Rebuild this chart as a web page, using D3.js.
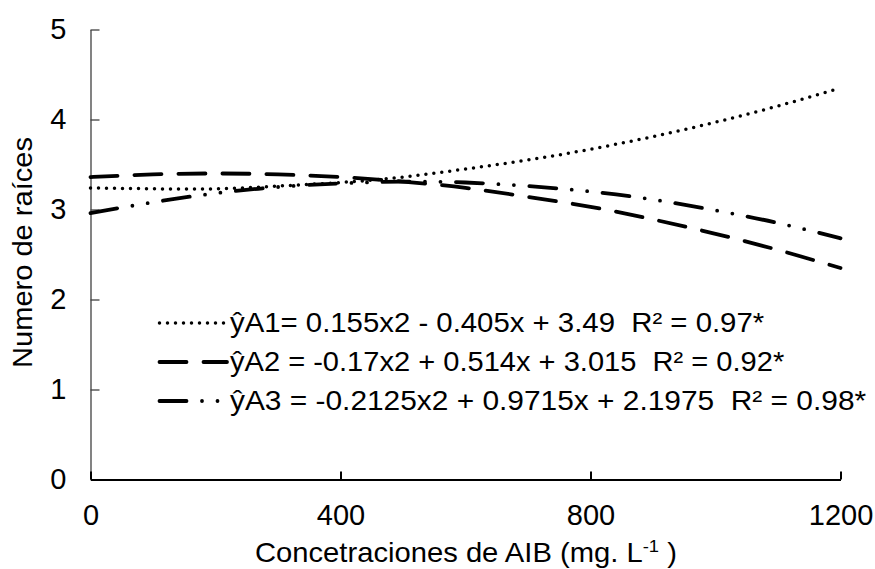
<!DOCTYPE html>
<html>
<head>
<meta charset="utf-8">
<script src="https://cdn.jsdelivr.net/npm/d3@7"></script>
<style>
  html, body { margin: 0; padding: 0; background: #fff; }
  svg { display: block; font-family: "Liberation Sans", Arial, Helvetica, sans-serif; }
  text { white-space: pre; }
</style>
</head>
<body>
<svg id="chart" width="875" height="569"></svg>
<script>
// Concentrations of AIB (mg/L) at which the fitted curves are sampled
const concentrations = [0, 100, 200, 300, 400, 500, 600, 700, 800, 900, 1000, 1100, 1200];

// Number of roots for each treatment along the fitted curve
const seriesA1 = [3.24, 3.23, 3.23, 3.26, 3.30, 3.36, 3.45, 3.55, 3.67, 3.81, 3.97, 4.15, 4.35];
const seriesA2 = [3.36, 3.39, 3.40, 3.39, 3.36, 3.31, 3.24, 3.14, 3.03, 2.89, 2.73, 2.55, 2.35];
const seriesA3 = [2.96, 3.08, 3.18, 3.25, 3.29, 3.31, 3.30, 3.26, 3.20, 3.11, 2.99, 2.85, 2.68];

// Legend labels (regression equations)
const legendLabels = [
  "ŷA1= 0.155x2 - 0.405x + 3.49  R² = 0.97*",
  "ŷA2 = -0.17x2 + 0.514x + 3.015  R² = 0.92*",
  "ŷA3 = -0.2125x2 + 0.9715x + 2.1975  R² = 0.98*"
];

const xTicks = [0, 400, 800, 1200];
const yTicks = [0, 1, 2, 3, 4, 5];

const svg = d3.select("#chart");

const x = d3.scaleLinear().domain([0, 1200]).range([90.5, 840.5]);
const y = d3.scaleLinear().domain([0, 5]).range([479.5, 29.5]);

// stretch a text node horizontally to a given width around a pivot
function stretch(node, width, pivot) {
  const b = node.getBBox();
  const s = width / b.width;
  const px = pivot === "left" ? b.x : pivot === "right" ? b.x + b.width : b.x + b.width / 2;
  node.setAttribute("transform", `translate(${px},0) scale(${s},1) translate(${-px},0)`);
}

// Y axis
const yAxis = svg.append("g")
  .attr("transform", `translate(${x(0)},0)`)
  .call(d3.axisLeft(y).tickValues(yTicks).tickSizeInner(-9).tickSizeOuter(0).tickPadding(24).tickFormat(d3.format("d")));
yAxis.select(".domain").attr("stroke", "#404040").attr("stroke-width", 1.3);
yAxis.selectAll(".tick line").attr("stroke", "#404040").attr("stroke-width", 1.3);
yAxis.selectAll(".tick text").attr("font-size", 29).attr("fill", "#000")
  .attr("font-family", "Liberation Sans, Arial, sans-serif");

// X axis
const xAxis = svg.append("g")
  .attr("transform", `translate(0,${y(0)})`)
  .call(d3.axisBottom(x).tickValues(xTicks).tickSizeInner(-8).tickSizeOuter(0).tickPadding(25).tickFormat(d3.format("d")));
xAxis.select(".domain").attr("stroke", "#000").attr("stroke-width", 2);
xAxis.selectAll(".tick line").attr("stroke", "#000").attr("stroke-width", 2);
xAxis.selectAll(".tick text").attr("font-size", 29).attr("fill", "#000")
  .attr("font-family", "Liberation Sans, Arial, sans-serif");

// Curves
const series = [
  { values: seriesA1, dash: "0 8", width: 3.5 },
  { values: seriesA2, dash: "27 17", width: 3.8 },
  { values: seriesA3, dash: "27 15.5 0 15.5 0 15.5", width: 3.8 }
];

const line = d3.line()
  .x(d => x(d[0]))
  .y(d => y(d[1]))
  .curve(d3.curveNatural);

series.forEach(s => {
  svg.append("path")
    .datum(concentrations.map((c, i) => [c, s.values[i]]))
    .attr("d", line)
    .attr("fill", "none")
    .attr("stroke", "#000")
    .attr("stroke-width", s.width)
    .attr("stroke-linecap", "round")
    .attr("stroke-dasharray", s.dash);
});

// Legend
const legendX0 = 159.5, legendX1 = 227, legendTextX = 230;
const legendRowY = [323, 362, 401];
const legendWidths = [535, 555, 637];
series.forEach((s, i) => {
  svg.append("line")
    .attr("x1", legendX0).attr("x2", legendX1)
    .attr("y1", legendRowY[i]).attr("y2", legendRowY[i])
    .attr("stroke", "#000")
    .attr("stroke-width", s.width)
    .attr("stroke-linecap", "round")
    .attr("stroke-dasharray", s.dash);
  const t = svg.append("text")
    .attr("x", legendTextX)
    .attr("y", legendRowY[i] + 9.5)
    .attr("font-size", 27)
    .attr("fill", "#000")
    .text(legendLabels[i]);
  stretch(t.node(), legendWidths[i], "left");
});

// Axis titles
const xTitle = svg.append("text")
  .attr("x", 255)
  .attr("y", 562)
  .attr("font-size", 27)
  .attr("fill", "#000");
xTitle.append("tspan").text("Concetraciones de AIB (mg. L");
xTitle.append("tspan").attr("font-size", 17).attr("dy", -10).text("-1");
xTitle.append("tspan").attr("dy", 10).text(" )");
stretch(xTitle.node(), 422, "left");

const yTitle = svg.append("text")
  .attr("text-anchor", "middle")
  .attr("font-size", 27)
  .attr("fill", "#000")
  .text("Numero de raíces");
const yLen = yTitle.node().getComputedTextLength();
yTitle.attr("transform", `translate(32,252.5) rotate(-90) scale(${231 / yLen},1)`);
</script>
</body>
</html>
